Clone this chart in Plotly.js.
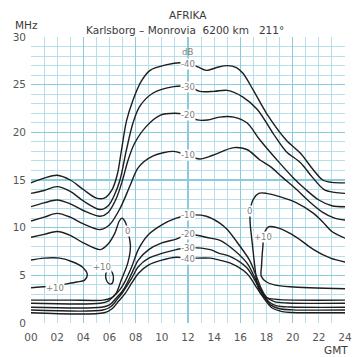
<!DOCTYPE html>
<html><head><meta charset="utf-8">
<script src="https://cdn.plot.ly/plotly-3.0.1.min.js"></script>
<style>html,body{margin:0;padding:0;background:#fff;}#c{width:359px;height:357px;}</style>
</head><body><div id="c"></div>
<script>
// x: hours GMT, y: MHz
const hourTicks = [0,2,4,6,8,10,12,14,16,18,20,22,24];
const hourLabels = ["00","02","04","06","08","10","12","14","16","18","20","22","24"];

// upper (MUF side) contours
const up40_h = [0,1,2,3,4,5,5.6,6.2,6.6,6.9,7.3,7.8,8.4,9.1,10.4,11.4,12,12.7,13.4,14.2,15,15.7,16.2,17,18,19.5,20.6,21.5,22.3,23,24];
const up40_f = [14.7,15.2,15.5,15.0,14.0,13.1,13.1,14.0,15.6,18.0,21.2,23.4,25.3,26.5,27.1,27.3,27.2,26.9,26.5,26.8,27.0,26.8,26.2,24.4,22.0,19.2,17.8,16.2,15.0,14.75,14.7];
const up30_h = [0,1,2,3,4,5.3,5.9,6.4,6.8,7.3,7.8,8.3,9.3,10.9,12,12.9,14,15,16.2,17.3,18.5,19.5,20.6,21.5,22.4,23.2,24];
const up30_f = [13.6,13.9,14.3,13.8,12.8,11.9,12.3,13.5,15.0,18.2,21.0,22.7,24.1,24.8,24.8,24.3,24.3,24.4,23.7,22.4,19.9,18.0,16.8,15.3,14.0,13.7,13.6];
const up20_h = [0,1,2,3,4,5.3,5.9,6.5,7.0,7.4,7.9,8.8,9.9,11,12,12.7,13.5,14.4,15.5,16.5,17.5,19,20,21,22,23,24];
const up20_f = [12.2,12.6,12.9,12.5,11.8,11.2,11.6,13.0,15.0,17.0,18.8,20.6,21.8,22.0,21.8,21.3,21.3,21.6,21.6,21.0,19.2,16.8,15.3,14.0,12.9,12.3,12.2];
const up10_h = [0,1,2,3,4,5.3,6,6.8,7.6,8.2,9.3,10.9,11.7,12.9,13.9,15.5,16.5,17.5,18.3,19.2,20.3,21.3,22.3,23.2,24];
const up10_f = [10.7,11.1,11.5,11.1,10.4,9.8,10.3,12.0,14.5,16.3,17.5,18.0,17.7,17.2,17.6,18.4,18.2,17.1,16.4,15.3,14.0,12.7,11.6,11.0,10.8];

// 0 dB contour (two branches, wrapping over midnight)
const zeroA_h = [0,1,2,3,4,5.3,5.9,6.4,6.75,6.95,7.2,7.45,7.6,7.4,6.9,6.5,6.1,5.5,3,0];
const zeroA_f = [9.0,9.3,9.6,9.2,8.4,7.7,8.3,9.4,10.7,11.0,10.6,9.4,8.0,6.3,4.5,3.1,2.6,2.4,2.4,2.4];
const zeroB_h = [24,23,22.3,21.6,20.3,19,18,17.4,17.0,16.75,16.75,16.9,17.1,17.3,17.6,18.1,19,24];
const zeroB_f = [8.9,9.6,10.6,11.5,12.6,13.25,13.6,13.6,13.0,11.8,10.5,8.5,6.0,4.0,3.0,2.6,2.45,2.4];

// +10 dB contours
const p10A_h = [0,1,2.2,3.2,3.9,4.3,4.1,3.5,2.7,1.8,0.9,0];
const p10A_f = [6.6,6.8,6.8,6.4,5.9,5.1,4.5,4.3,4.1,3.9,3.8,3.7];
const p10B_h = [24,22.9,21.6,20.6,19.8,18.8,18.2,17.85,17.72,17.62,17.6,18.0,18.6,19.8,24];
const p10B_f = [6.4,6.8,7.7,8.7,9.4,10.0,10.1,9.5,8.0,6.0,4.9,4.3,4.0,3.8,3.6];
const p10C_h = [5.95,6.2,6.3,6.15,5.9,5.72,5.75,5.95];
const p10C_f = [5.6,5.3,4.6,4.1,4.2,4.7,5.3,5.6];

// lower (LUF side) contours
const lo10_h = [0,5.3,5.9,6.4,6.8,7.2,7.7,8.2,9,10,11.1,12,13.4,14.4,15,16,16.7,17.2,17.6,18.0,18.6,19.6,24];
const lo10_f = [2.07,2.07,2.3,2.9,3.5,4.4,5.9,7.7,9.3,10.3,11.0,11.3,11.2,10.5,9.8,8.0,6.6,5.0,3.6,2.7,2.25,2.1,2.07];
const lo20_h = [0,5.4,6.0,6.5,6.9,7.2,7.7,8.2,9,10,11.1,12,13.7,14.4,15.2,16.5,17.2,17.7,18.2,18.8,19.8,24];
const lo20_f = [1.65,1.65,1.9,2.6,3.2,3.8,5.2,6.6,7.7,8.4,8.8,9.3,8.9,8.7,8.0,6.3,4.5,3.2,2.2,1.8,1.68,1.65];
const lo30_h = [0,5.5,6.1,6.6,7.0,7.7,8.2,9,10,11.1,12,13.7,14.4,15.2,16.5,17.3,17.8,18.3,19,20,24];
const lo30_f = [1.36,1.36,1.7,2.5,3.2,4.7,5.9,6.8,7.3,7.7,7.9,7.7,7.3,7.0,5.8,4.0,2.8,1.9,1.5,1.38,1.36];
const lo40_h = [0,5.6,6.2,6.7,7.2,7.7,8.2,9,10,11.1,12,13.7,14.4,15.2,16.5,17.3,17.9,18.4,19.2,20,24];
const lo40_f = [1.08,1.08,1.5,2.3,3.1,4.2,5.2,6.1,6.6,6.9,6.8,6.8,6.6,6.3,5.2,3.6,2.4,1.6,1.2,1.1,1.08];

// contour labels
const lab_text = ["dB","-40","-30","-20","-10","-10","-20","-30","-40","0","0","+10","+10","+10"];
const lab_h    = [11.95,12,12,12,12,12,12,12,12,7.35,16.7,5.4,1.8,17.75];
const lab_f    = [28.4,27.2,24.8,21.8,17.6,11.3,9.3,7.9,6.7,9.6,11.7,5.9,3.7,9.0];

const curves = [
  [up40_h,up40_f],[up30_h,up30_f],[up20_h,up20_f],[up10_h,up10_f],
  [zeroA_h,zeroA_f],[zeroB_h,zeroB_f],
  [p10A_h,p10A_f],[p10B_h,p10B_f],[p10C_h,p10C_f],
  [lo10_h,lo10_f],[lo20_h,lo20_f],[lo30_h,lo30_f],[lo40_h,lo40_f]
];

const traces = curves.map(c => ({
  x: c[0], y: c[1], type: 'scatter', mode: 'lines',
  line: {color: '#1e1e1e', width: 1.4, shape: 'spline', smoothing: 0.9},
  hoverinfo: 'skip', showlegend: false
}));
// invisible trace to hold the labelled tick axis
traces.push({x:[0,24], y:[0,0], xaxis:'x2', type:'scatter', mode:'markers',
  marker:{opacity:0}, hoverinfo:'skip', showlegend:false});

const annotations = lab_text.map((t,i) => ({
  x: lab_h[i], y: lab_f[i], xref:'x', yref:'y', text: t, showarrow:false,
  xanchor:'center', yanchor:'middle',
  font:{family:'DejaVu Sans, sans-serif', size:8.5, color:'#808080'},
  bgcolor: t === 'dB' ? 'rgba(0,0,0,0)' : '#ffffff', borderpad: 0
}));
annotations.push(
  {text:'AFRIKA', x:188, y:15},
  {text:'Karlsborg – Monrovia  6200 km   211°', x:185, y:30},
  {text:'MHz', x:26, y:25},
  {text:'GMT', x:336, y:350}
);
// convert the pixel-placed page texts to paper coordinates
const W=359,H=357,ML=31,MR=14,MT=37,MB=34;
for (let k = lab_text.length; k < annotations.length; k++) {
  const a = annotations[k];
  a.x = (a.x-ML)/(W-ML-MR); a.y = 1-(a.y-MT)/(H-MT-MB);
  a.xref='paper'; a.yref='paper'; a.showarrow=false;
  a.xanchor='center'; a.yanchor='middle';
  a.font = {family:'DejaVu Sans, sans-serif', size:10.5, color:'#3a3a3a'};
}

const layout = {
  width: W, height: H,
  margin: {l:ML, r:MR, t:MT, b:MB},
  paper_bgcolor:'#ffffff', plot_bgcolor:'#ffffff',
  xaxis: {range:[0,24], dtick:4, tick0:0, showgrid:true, gridcolor:'#8ccbdd', gridwidth:1.3,
          showticklabels:false, zeroline:false, showline:false, ticks:'',
          minor:{dtick:1, showgrid:true, gridcolor:'#b4dfeb', gridwidth:1}},
  xaxis2: {range:[0,24], overlaying:'x', side:'bottom', tickvals:hourTicks, ticktext:hourLabels,
           showgrid:false, zeroline:false, showline:false, ticks:'', ticklabelstandoff:6,
           tickfont:{family:'DejaVu Sans, sans-serif', size:10.5, color:'#555555'}},
  yaxis: {range:[0,30], dtick:5, showgrid:true, gridcolor:'#8ccbdd', gridwidth:1.3,
          zeroline:false, showline:false, ticks:'', ticklabelstandoff:4,
          tickfont:{family:'DejaVu Sans, sans-serif', size:10.5, color:'#555555'},
          minor:{dtick:1, showgrid:true, gridcolor:'#b4dfeb', gridwidth:1}},
  annotations: annotations
};
Plotly.newPlot('c', traces, layout, {staticPlot:true, displayModeBar:false});
</script></body></html>
